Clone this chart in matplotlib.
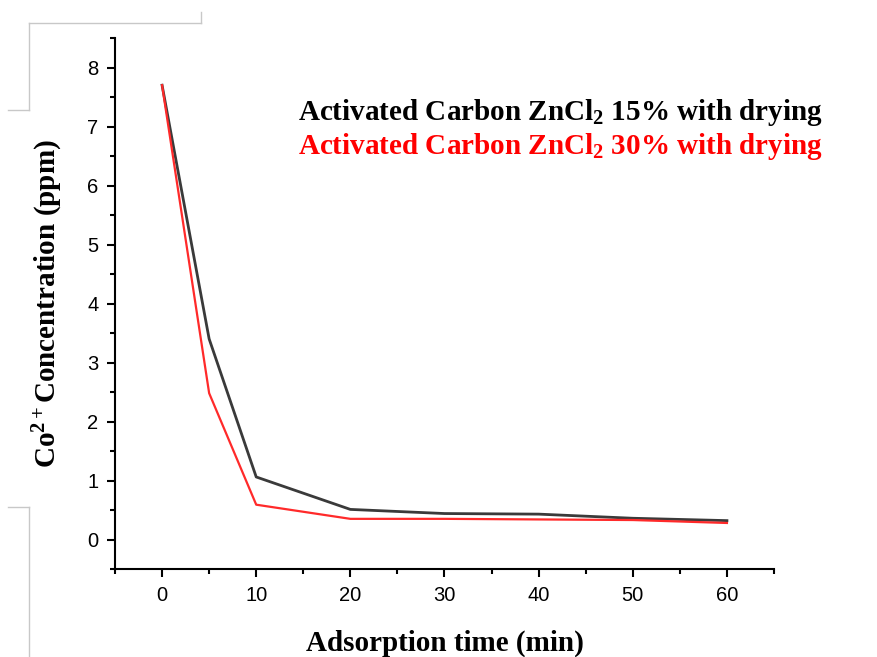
import matplotlib
matplotlib.use('Agg')
import matplotlib.pyplot as plt
from matplotlib.lines import Line2D
from matplotlib.ticker import MultipleLocator

plt.rcParams['mathtext.fontset'] = 'custom'
plt.rcParams['mathtext.rm'] = 'Liberation Serif:bold'
plt.rcParams['mathtext.it'] = 'Liberation Serif:bold'
plt.rcParams['mathtext.bf'] = 'Liberation Serif:bold'

time_min = [0, 5, 10, 20, 30, 40, 50, 60]
conc_15 = [7.70, 3.40, 1.06, 0.51, 0.44, 0.43, 0.36, 0.32]
conc_30 = [7.70, 2.48, 0.59, 0.35, 0.35, 0.34, 0.33, 0.28]
label_15 = 'Activated Carbon ZnCl$_2$ 15% with drying'
label_30 = 'Activated Carbon ZnCl$_2$ 30% with drying'

W, H = 878, 657
fig = plt.figure(figsize=(W / 100, H / 100), dpi=100)
ax = fig.add_axes([115 / W, 1 - 569 / H, (774 - 115) / W, (569 - 38) / H])

ax.plot(time_min, conc_15, color='#3a3a3a', lw=2)
ax.plot(time_min, conc_30, color='#ff2a2a', lw=1.6)

ax.set_xlim(-5, 65)
ax.set_ylim(-0.5, 8.5)
ax.xaxis.set_major_locator(MultipleLocator(10))
ax.xaxis.set_minor_locator(MultipleLocator(5))
ax.yaxis.set_major_locator(MultipleLocator(1))
ax.yaxis.set_minor_locator(MultipleLocator(0.5))

for s in ['top', 'right']:
    ax.spines[s].set_visible(False)
for s in ['left', 'bottom']:
    ax.spines[s].set_linewidth(1.5)
ax.tick_params(which='major', direction='out', length=6, width=1.5,
               labelsize=14.5, pad=6)
ax.tick_params(which='minor', direction='out', length=3.5, width=1.5)
for lab in ax.get_xticklabels() + ax.get_yticklabels():
    lab.set_fontfamily('Liberation Sans')

ax.set_xlabel('Adsorption time (min)', family='Liberation Serif',
              weight='bold', fontsize=21, labelpad=18)
ax.set_ylabel('Co$^{2+}$Concentration (ppm)', family='Liberation Serif',
              weight='bold', fontsize=21, labelpad=16)

fig.text(298 / W, 1 - 113 / H, label_15, color='black', family='Liberation Serif',
         weight='bold', fontsize=21, va='center', ha='left')
fig.text(298 / W, 1 - 147 / H, label_30, color='#ff0000', family='Liberation Serif',
         weight='bold', fontsize=21, va='center', ha='left')

# slide frame remnants
frame = [
    ([29, 201], [23, 23]), ([201, 201], [12, 23]), ([29, 29], [23, 110]),
    ([8, 29], [110, 110]), ([8, 29], [507, 507]), ([29, 29], [507, 657]),
]
for xs, ys in frame:
    fig.add_artist(Line2D([x / W for x in xs], [1 - y / H for y in ys],
                          color='#c8c8c8', lw=1))

fig.savefig('out.png', dpi=100)
